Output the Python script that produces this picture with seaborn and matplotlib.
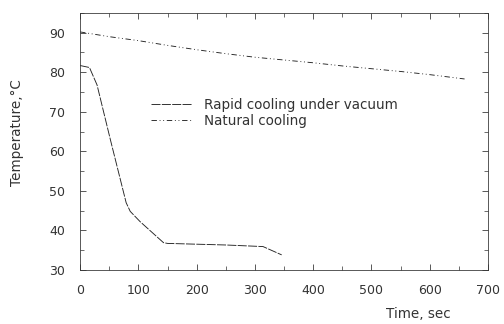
import numpy as np
import pandas as pd
import matplotlib
matplotlib.use("Agg")
import matplotlib.pyplot as plt
import seaborn as sns
from matplotlib.ticker import MultipleLocator

rapid_time = [0, 16, 29, 52, 79, 86, 103, 143, 150, 250, 314, 346]
rapid_temp = [81.7, 81.2, 76.8, 62.9, 47.0, 44.8, 42.2, 36.9, 36.7, 36.3, 35.9, 33.8]

natural_time = [0, 50, 100, 150, 200, 250, 300, 350, 400, 450, 500, 550, 600, 660]
natural_temp = [90.2, 89.0, 88.0, 86.8, 85.7, 84.7, 83.8, 83.1, 82.4, 81.6, 80.9, 80.2, 79.4, 78.3]

series_names = ["Rapid cooling under vacuum", "Natural cooling"]
x_label = "Time, sec"
y_label = "Temperature,\u00b0C"

df = pd.concat([
    pd.DataFrame({"time": rapid_time, "temp": rapid_temp, "series": series_names[0]}),
    pd.DataFrame({"time": natural_time, "temp": natural_temp, "series": series_names[1]}),
])

sns.set_style("ticks")
plt.rcParams["font.family"] = ["DejaVu Sans"]

fig = plt.figure(figsize=(7, 4.5), dpi=72)
ax = fig.add_axes([0.159, 0.167, 0.809, 0.793])

sns.lineplot(data=df, x="time", y="temp", style="series", ax=ax,
             color="#222222", linewidth=0.9, sort=False,
             dashes={series_names[0]: (10, 1.5), series_names[1]: (6, 3, 1, 3, 1, 3)},
             legend=True)

ax.set_xlim(0, 700)
ax.set_ylim(30, 95)
ax.xaxis.set_major_locator(MultipleLocator(100))
ax.xaxis.set_minor_locator(MultipleLocator(50))
ax.yaxis.set_major_locator(MultipleLocator(10))
ax.yaxis.set_minor_locator(MultipleLocator(5))
ax.set_yticks([30, 40, 50, 60, 70, 80, 90])
ax.tick_params(which="both", direction="in", top=True, right=True, color="#333333")
ax.tick_params(which="major", length=6, width=0.8, labelsize=12.5, labelcolor="#333333")
ax.tick_params(axis="x", which="major", pad=14)
ax.tick_params(axis="y", which="major", pad=15)
ax.tick_params(which="minor", length=4, width=0.7)
for s in ax.spines.values():
    s.set_linewidth(0.8)
    s.set_color("#333333")

ax.set_xlabel("")
ax.set_ylabel("")
fig.text(0.033, 0.59, y_label, rotation=90, ha="center", va="center",
         fontsize=13.5, color="#333333")
fig.text(0.83, 0.03, x_label, ha="center", va="center", fontsize=13.5, color="#333333")

leg = ax.legend(frameon=False, loc="upper left", bbox_to_anchor=(0.158, 0.695),
                fontsize=13.5, handlelength=3.0, handletextpad=0.9,
                labelspacing=0.15, borderpad=0)
for t in leg.get_texts():
    t.set_color("#333333")

fig.savefig("out.png", dpi=72, facecolor="white")
